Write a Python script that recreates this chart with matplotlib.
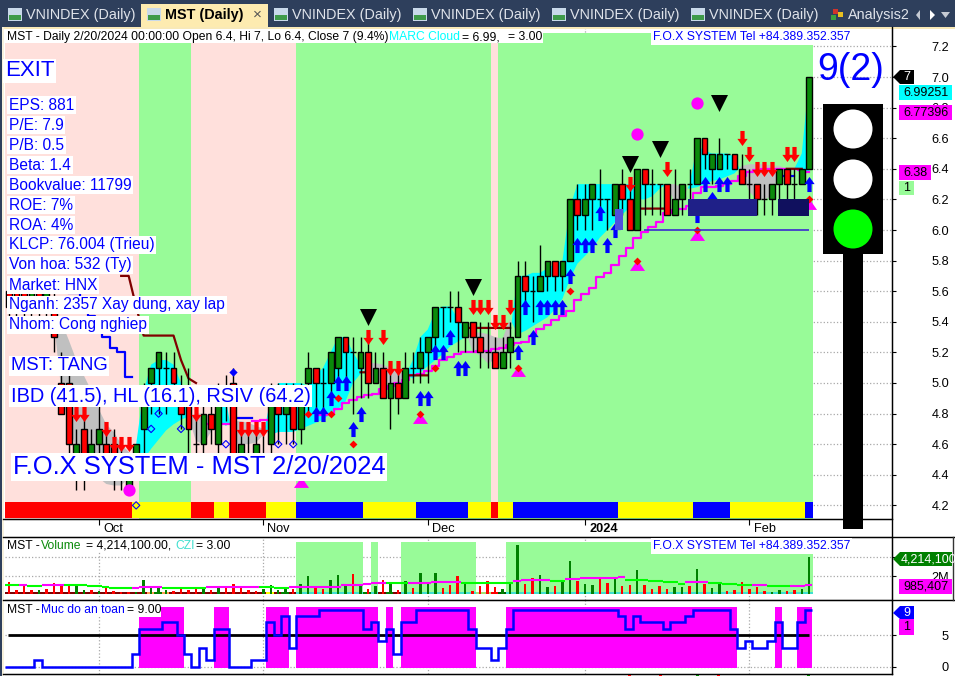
import numpy as np
import matplotlib
matplotlib.use('Agg')
import matplotlib.pyplot as plt
from matplotlib.patches import Rectangle, Circle, Polygon
from matplotlib.transforms import ScaledTranslation

plt.rcParams['font.family'] = ['Liberation Sans', 'DejaVu Sans']

W, H = 955, 676
nan = float('nan')

# daily prices, one value per bar
opens = [5.6, 5.6, 5.6, 5.5, 5.6, 5.5, 5.5, 5.0, 5.0, 4.4, 4.7, 4.5, 4.6, 4.6, 4.6, 4.5, 4.3, 4.4,
         4.7, 5.0, 5.1, 5.1, 5.1, 4.9, 4.9, 4.6, 4.6, 4.8, 4.6, 4.9, 5.0, 4.4, 4.5, 4.4, 4.5, 4.6,
         4.9, 4.8, 4.9, 4.7, 5.0, 5.1, 5.0, 5.0, 5.1, 5.3, 5.2, 5.1, 5.2, 5.0, 5.1, 4.9, 5.0, 4.9,
         5.1, 5.1, 5.2, 5.3, 5.5, 5.5, 5.5, 5.3, 5.4, 5.3, 5.2, 5.2, 5.1, 5.2, 5.3, 5.7, 5.6, 5.6,
         5.7, 5.8, 5.7, 5.8, 6.2, 6.1, 6.2, 6.2, 6.2, 6.1, 6.3, 6.2, 6.0, 6.4, 6.3, 6.3, 6.3, 6.1,
         6.2, 6.3, 6.3, 6.6, 6.4, 6.4, 6.5, 6.5, 6.4, 6.3, 6.3, 6.2, 6.2, 6.3, 6.4, 6.3, 6.3, 6.4]
closes = [5.5, 5.5, 5.5, 5.6, 5.5, 5.6, 5.3, 4.8, 4.6, 4.6, 4.4, 4.6, 4.7, 4.5, 4.5, 4.4, 4.5, 4.6,
          4.9, 5.1, 5.2, 5.1, 5.0, 4.8, 4.7, 4.6, 4.8, 4.7, 4.9, 4.9, 4.4, 4.6, 4.5, 4.6, 4.5, 4.9,
          4.8, 4.9, 4.7, 4.9, 5.1, 5.0, 5.0, 5.2, 5.3, 5.2, 5.2, 5.2, 5.0, 5.1, 4.9, 5.0, 4.9, 5.1,
          5.1, 5.2, 5.3, 5.5, 5.5, 5.5, 5.4, 5.4, 5.3, 5.2, 5.2, 5.1, 5.2, 5.3, 5.7, 5.6, 5.6, 5.7,
          5.8, 5.7, 5.8, 6.2, 6.1, 6.2, 6.3, 6.2, 6.2, 6.3, 6.2, 6.0, 6.4, 6.3, 6.3, 6.3, 6.1, 6.2,
          6.3, 6.3, 6.6, 6.5, 6.5, 6.5, 6.5, 6.4, 6.3, 6.3, 6.2, 6.2, 6.3, 6.4, 6.3, 6.3, 6.4, 7.0]
highs = [5.7, 5.7, 5.7, 5.7, 5.7, 5.7, 5.6, 5.2, 5.1, 4.7, 4.8, 4.7, 4.9, 4.7, 4.7, 4.6, 4.5, 4.6,
         5.0, 5.1, 5.2, 5.2, 5.2, 5.05, 5.1, 4.8, 4.9, 4.9, 5.0, 5.05, 5.1, 4.7, 4.7, 4.7, 4.7, 5.0,
         5.0, 5.0, 5.0, 5.0, 5.2, 5.1, 5.1, 5.2, 5.3, 5.3, 5.3, 5.3, 5.3, 5.2, 5.2, 5.1, 5.1, 5.2,
         5.2, 5.3, 5.3, 5.5, 5.5, 5.6, 5.6, 5.4, 5.4, 5.4, 5.4, 5.3, 5.3, 5.4, 5.8, 5.8, 5.7, 5.9,
         5.8, 5.8, 5.8, 6.2, 6.3, 6.3, 6.3, 6.4, 6.2, 6.3, 6.4, 6.3, 6.4, 6.4, 6.4, 6.3, 6.3, 6.4,
         6.3, 6.4, 6.6, 6.6, 6.5, 6.6, 6.5, 6.5, 6.5, 6.4, 6.3, 6.3, 6.3, 6.4, 6.4, 6.4, 6.4, 7.0]
lows = [5.4, 5.4, 5.4, 5.4, 5.4, 5.4, 5.2, 4.8, 4.5, 4.3, 4.3, 4.4, 4.4, 4.4, 4.3, 4.3, 4.3, 4.4,
        4.5, 4.8, 4.8, 4.8, 4.85, 4.7, 4.5, 4.5, 4.5, 4.6, 4.5, 4.75, 4.4, 4.4, 4.4, 4.4, 4.4, 4.5,
        4.6, 4.6, 4.6, 4.6, 4.8, 4.8, 4.8, 4.9, 5.0, 5.0, 4.8, 4.9, 4.9, 5.0, 4.9, 4.7, 4.8, 4.9,
        5.0, 5.0, 5.0, 5.2, 5.3, 5.4, 5.2, 5.2, 5.2, 5.1, 5.1, 5.1, 5.1, 5.1, 5.3, 5.5, 5.4, 5.6,
        5.6, 5.6, 5.6, 5.8, 6.0, 6.0, 6.0, 6.1, 6.0, 6.1, 6.1, 6.0, 6.0, 6.1, 6.1, 6.1, 6.1, 6.1,
        6.1, 6.1, 6.3, 6.4, 6.3, 6.4, 6.4, 6.4, 6.3, 6.2, 6.1, 6.1, 6.1, 6.2, 6.2, 6.2, 6.3, 6.4]

# MARC cloud, fast and slow edge
cloud_fast = [nan] * 6 + [5.4, 4.95, 4.72, 4.57, 4.47, 4.42, 4.38, 4.34, 4.33, 4.33, 4.38, 4.6,
              4.95, 5.12, 5.15, 5.15, 5.12, 5.0, 4.78, 4.62, 4.6, 4.68, 4.85, 4.9, 4.6, 4.6, 4.6,
              4.61, 4.66, 4.9, 5.0, 5.0, 5.0, 5.0, 4.98, 5.05, 5.1, 5.2, 5.3, 5.3, 5.2, 5.12, 5.02,
              5.0, 5.0, 5.0, 5.0, 5.05, 5.15, 5.3, 5.35, 5.47, 5.5, 5.5, 5.42, 5.35, 5.2, 5.18, 5.13,
              5.15, 5.2, 5.32, 5.7, 5.7, 5.72, 5.72, 5.75, 5.78, 5.8, 6.15, 6.3, 6.3, 6.3, 6.3, 6.3,
              6.3, 6.3, 6.3, 6.3, 6.3, 6.3, 6.3, 6.29, 6.18, 6.2, 6.3, 6.55, 6.52, 6.5, 6.5, 6.5,
              6.48, 6.36, 6.25, 6.2, 6.2, 6.22, 6.4, 6.4, 6.4, 6.5, 6.99]
cloud_slow = [nan] * 6 + [5.42, 5.4, 5.28, 5.15, 5.05, 4.95, 4.83, 4.73, 4.68, 4.6, 4.55, 4.5,
              4.5, 4.57, 4.63, 4.69, 4.73, 4.76, 4.78, 4.8, 4.8, 4.78, 4.75, 4.72, 4.75, 4.75, 4.74,
              4.72, 4.7, 4.66, 4.68, 4.68, 4.68, 4.7, 4.72, 4.74, 4.76, 4.8, 4.83, 4.88, 5.0, 5.06, 5.13,
              5.13, 5.12, 5.1, 5.08, 5.05, 5.03, 5.07, 5.11, 5.15, 5.19, 5.24, 5.27, 5.3, 5.33, 5.33, 5.32,
              5.3, 5.29, 5.42, 5.32, 5.34, 5.37, 5.4, 5.43, 5.48, 5.55, 5.68, 5.78, 5.83, 5.88, 5.95, 6.0,
              6.05, 6.1, 6.15, 6.2, 6.2, 6.22, 6.27, 6.3, 6.3, 6.28, 6.27, 6.28, 6.3, 6.32, 6.33, 6.35,
              6.37, 6.42, 6.43, 6.43, 6.43, 6.42, 6.42, 6.4, 6.4, 6.37, 6.38]

trend_line = [nan] * 27 + [4.73, 4.73, 4.73, nan, nan, nan, 4.75, 4.76] + [nan] * 7 + \
    [4.79, 4.8, 4.83, 4.87, 4.89, 4.91, 4.92, 4.93, 4.96, 4.98, 5.0, 5.02, 5.05, 5.06, 5.08, 5.11, 5.15,
     5.17, 5.19, 5.2, 5.2, 5.21, 5.21, 5.22, 5.23, 5.25, 5.26, 5.27, 5.31, 5.35, 5.38, 5.41, 5.44, 5.47,
     5.54, 5.58, 5.62, 5.69, 5.72, 5.77, 5.83, 5.88, 5.95, 5.99, 6.02, 6.05, 6.11, 6.13, 6.14, 6.16, 6.24,
     6.28, 6.28, 6.29, 6.3, 6.32, 6.35, 6.38, 6.39, 6.4, 6.4, 6.4, 6.4, 6.4, 6.39, 6.38]

stop_x = [15, 16, 17, 18, 19, 20, 21, 22, 23, 24, 25, nan, 47, 48, nan, 53, 54, 55, 56, nan,
          61, 62, 63, 64, 65, 66, 67, nan, 84, 85, 86, 87, 88, nan, 104, 105, 106]
stop_y = [5.7, 5.7, 5.5, 5.31, 5.31, 5.31, 5.31, 5.31, 5.15, 5.03, 5.0, nan, 5.07, 5.07, nan, 5.05, 5.05, 5.05, 5.05, nan,
          5.36, 5.36, 5.36, 5.36, 5.36, 5.36, 5.36, nan, 6.14, 6.14, 6.14, 6.14, 6.14, nan, 6.4, 6.4, 6.4]
blue_x = [8, 9, 10, 11, 12, 13, 14, 15, 16, 17, nan, 26, 27, nan, 30, 31, 32, 33, nan, 103, 104, 105]
blue_y = [5.59, 5.59, 5.5, 5.44, 5.4, 5.3, 5.23, 5.2, 5.04, 5.04, nan, 4.71, 4.71, nan, 4.77, 4.77, 4.77, 4.77, nan, 6.35, 6.35, 6.35]

up_x = [41, 42, 43, 44, 45, 46, 47, 55, 56, 57, 58, 59, 60, 61, 68, 69, 70, 71, 72, 73, 74, 75, 76, 77, 78, 79, 80, 81, 92, 93, 94, 95, 96, 107]
up_y = [4.8, 4.8, 4.9, 5.0, 5.0, 4.7, 4.8, 4.9, 4.9, 5.2, 5.2, 5.3, 5.1, 5.1, 5.2, 5.5, 5.3, 5.5, 5.5, 5.5, 5.5, 5.7, 5.9, 5.9, 5.9, 6.11, 5.9, 6.0, 6.1, 6.3, 6.2, 6.3, 6.3, 6.3]
down_x = [9, 10, 13, 14, 15, 16, 25, 31, 32, 33, 34, 48, 50, 51, 52, 62, 63, 64, 65, 66, 67, 83, 88, 98, 99, 100, 101, 102, 104, 105]
down_y = [4.8, 4.8, 4.7, 4.6, 4.6, 4.6, 4.8, 4.7, 4.7, 4.7, 4.7, 5.3, 5.3, 5.1, 5.1, 5.5, 5.5, 5.5, 5.4, 5.4, 5.5, 6.3, 6.4, 6.6, 6.5, 6.4, 6.4, 6.4, 6.5, 6.5]
black_x = [48, 62, 83, 87, 95]
black_y = [5.43, 5.63, 6.43, 6.53, 6.83]
tri_x = [39, 55, 68, 84, 92, 107]
tri_y = [4.35, 4.77, 5.08, 5.77, 5.97, 6.17]
dot_x = [16, 84, 92]
dot_y = [4.3, 6.63, 6.83]
red_x = [40, 43, 44, 46, 55, 57, 68, 75, 84, 92, 107]
red_y = [4.8, 4.8, 4.9, 4.6, 4.8, 5.1, 5.1, 5.6, 5.8, 6.0, 6.2]
hollow_x = [17, 19, 20, 23, 29, 36, 38]
hollow_y = [4.2, 4.7, 4.8, 4.7, 4.6, 4.6, 4.6]

green_runs = [(17.4, 24.4), (38.4, 64.4), (65.4, 107.5)]
band_edges = [-0.53, 16.4, 24.4, 27.4, 29.4, 34.4, 38.4, 47.4, 54.4, 61.4, 64.4, 65.4, 67.4, 81.4, 91.4, 96.4, 106.4, 107.5]
band_colors = ['red', 'yellow', 'red', 'yellow', 'red', 'yellow', 'blue', 'yellow', 'blue', 'yellow',
               'red', 'yellow', 'blue', 'yellow', 'blue', 'yellow', 'blue']

price_ticks = [4.2, 4.4, 4.6, 4.8, 5.0, 5.2, 5.4, 5.6, 5.8, 6.0, 6.2, 6.4, 6.6, 6.8, 7.0, 7.2]
month_ticks = [12, 34, 56, 77, 99]
month_labels = ['Oct', 'Nov', 'Dec', '2024', 'Feb']

# volume in millions
volume = [1.37, .5, .88, .5, .5, .6, 1.25, .88, .88, 1.07, .5, .5, .3, .7, .3, .19, .19, .19, 1.64, .88,
          .88, .5, .3, .7, .5, .7, .6, .5, .95, .7, 1.18, .7, .5, .38, .57, 1.07, .5, .7, .57, 1.14,
          2.0, .76, .6, 1.64, 2.2, .88, 2.3, .88, .6, .95, 1.56, 1.14, .5, 1.52, .7, 2.44, 1.37, 2.44, .7, 1.07,
          2.1, 1.25, .38, .95, 1.52, .8, .57, 1.37, 5.64, 1.18, 1.83, 2.2, .8, .95, 1.64, 3.8, 1.45, 1.18, 1.07, 1.94,
          1.25, 1.83, .95, 1.07, 2.78, 1.07, .6, .95, .6, .8, .84, .95, 2.9, 1.18, .7, 1.18, .38, .5, 1.37, .6,
          .76, .38, .27, .5, .38, .5, .6, 4.21]
vol_dir = ('rrrrgrrrrg' 'grgrrrrggg' 'ggrrrrgrgr' 'rrrrggggrg' 'grrgggrgrg'
           'rgrgrgggrr' 'rgrrrrgggr' 'rggrggrggr' 'rgrrgrrrrg' 'grgrggrrrr' 'rrggrrgg')
vol_ma = [.99, .99, 1.07, .95, .95, 1.07, 1.07, 1.07, .99, .99, .99, .88, .88, .8, .69, .69, .69, .72, .8, .8,
          .8, .69, .69, .69, .69, .69, .69, .76, .76, .76, .8, .8, .8, .8, .76, .76, .65, .65, .76, .76,
          .76, .84, .84, .84, .84, .99, .99, .99, 1.14, 1.26, 1.26, 1.22, 1.22, 1.22, 1.26, 1.26, 1.26, 1.37, 1.37, 1.37,
          1.37, 1.22, 1.22, 1.22, 1.22, 1.22, 1.22, 1.22, 1.45, 1.56, 1.56, 1.56, 1.56, 1.45, 1.45, 1.71, 1.71, 1.83, 1.83, 1.83,
          1.83, 1.83, 1.9, 1.64, 1.6, 1.6, 1.52, 1.52, 1.37, 1.37, 1.18, 1.33, 1.33, 1.33, 1.26, 1.26, 1.14, 1.14, .99, .99,
          1.03, 1.03, .88, .88, .88, .91, .91, .99]
vol_green = [(38.4, 47.4), (48.4, 49.4), (52.4, 62.4), (66.4, 107.5)]
strip_edges = [-0.53, 18.4, 19.4, 20.4, 21.4, 34.4, 35.4, 36.4, 37.4, 38.4, 47.4, 48.4, 49.4, 50.4, 51.4, 52.4, 62.4, 64.4, 65.4, 66.4, 107.5]
strip_colors = ['#800000', '#ffa050', '#008000', '#ffa050', '#800000', 'yellow', '#800000', '#008000', '#800000', '#40e0d0',
                '#008000', '#40e0d0', '#800000', '#008000', '#800000', '#40e0d0', '#a8e070', 'red', '#006000', '#40e0d0']

# Muc do an toan
safety = [0, 0, 0, 0, 1] + [0] * 12 + [2, 6, 6, 6, 7, 7, 5, 2, 0, 3, 1, 6, 6, 0, 0, 0, 1, 1, 7, 5, 8, 3, 8, 8, 8] + \
    [9] * 6 + [6, 7, 4, 6, 2, 7, 7] + [9] * 7 + [6, 3, 3, 1, 3, 6] + [9] * 14 + \
    [8, 6, 8, 7, 7, 7, 6, 7, 7, 8, 9, 9, 9, 9, 9, 6, 3, 4, 3, 3, 4, 7, 3, 3, 7, 9]

tabs = ['VNINDEX (Daily)', 'MST (Daily)', 'VNINDEX (Daily)', 'VNINDEX (Daily)', 'VNINDEX (Daily)', 'VNINDEX (Daily)', 'Analysis2']
tab_x = [26, 165, 292, 431, 570, 709, 848]
info_lines = ['EPS: 881', 'P/E: 7.9', 'P/B: 0.5', 'Beta: 1.4', 'Bookvalue: 11799', 'ROE: 7%', 'ROA: 4%',
              'KLCP: 76.004 (Trieu)', 'Von hoa: 532 (Ty)', 'Market: HNX', 'Nganh: 2357 Xay dung, xay lap', 'Nhom: Cong nghiep']

BAR = np.arange(len(closes))
GREEN = '#0a8a0a'
PALE = '#98fb98'
PINK = '#ffe0dc'


def box(x0, y0, x1, y1):
    return [x0 / W, 1 - y1 / H, (x1 - x0) / W, (y1 - y0) / H]


def span(ax, a, b, lo, hi, color, z=1):
    ax.fill_between([a, b], lo, hi, color=color, lw=0, zorder=z)


fig = plt.figure(figsize=(9.55, 6.76), dpi=100, facecolor='white')

# ---- price panel
ax = fig.add_axes(box(5, 27, 891.5, 519))
ax.set_xlim(-0.535, 118)
ax.set_ylim(4.111, 7.327)
span(ax, -0.53, 107.5, 4.11, 7.288, PINK)
for a, b in green_runs:
    span(ax, a, b, 4.11, 7.288, PALE)
for i in range(len(band_colors)):
    span(ax, band_edges[i], band_edges[i + 1], 4.118, 4.222, band_colors[i], 2)

fast = np.array(cloud_fast)
slow = np.array(cloud_slow)
ax.fill_between(BAR, fast, slow, where=fast >= slow, interpolate=True, color='cyan', lw=0, zorder=3)
ax.fill_between(BAR, fast, slow, where=fast <= slow, interpolate=True, color='#c0c0c0', lw=0, zorder=3)

ax.plot(BAR, trend_line, color='#ff00ff', lw=1.6, drawstyle='steps-mid', zorder=4)
ax.plot(blue_x, blue_y, color='blue', lw=1.6, drawstyle='steps-mid', zorder=4)
ax.plot(stop_x, stop_y, color='#800000', lw=1.6, zorder=4)

ax.vlines(BAR, lows, highs, color='black', lw=1, zorder=5)
body_colors = [GREEN if c > o else 'red' for o, c in zip(opens, closes)]
ax.bar(BAR, np.array(closes) - np.array(opens), bottom=opens, width=0.78, color=body_colors,
       edgecolor='black', lw=1, zorder=6)

arrow = [(0, 1), (0.68, 0.05), (0.28, 0.05), (0.28, -1), (-0.28, -1), (-0.28, 0.05), (-0.68, 0.05)]
arrow_down = [(x, -y) for x, y in arrow]
tri_up = [(-1, -0.72), (1, -0.72), (0, 0.72)]
ax.scatter(tri_x, tri_y, marker=tri_up, s=118, color='#ff00ff', lw=0, zorder=7)
ax.scatter(dot_x, dot_y, marker='o', s=78, color='#ff00ff', lw=0, zorder=7)
ax.scatter(up_x, up_y, marker=arrow, s=118, color='blue', lw=0, zorder=7)
ax.scatter(down_x, down_y, marker=arrow_down, s=118, color='red', lw=0, zorder=7)
ax.scatter(black_x, black_y, marker='v', s=150, color='black', lw=0, zorder=7)
ax.scatter(red_x, red_y, marker='D', s=16, color='red', lw=0, zorder=8)
ax.scatter(hollow_x, hollow_y, marker='D', s=14, facecolor='none', edgecolor='blue', lw=0.8, zorder=8)
ax.scatter([30], [5.07], marker='D', s=18, color='blue', lw=0, zorder=8)

ax.hlines(6.0, 84.9, 107, color='#3b2bd0', lw=1.2, zorder=8)
span(ax, 81.0, 82.1, 6.0, 6.14, '#5050dd', 8)
span(ax, 90.8, 100, 6.09, 6.2, '#1f2088', 8)
span(ax, 102.8, 107, 6.09, 6.2, '#10105e', 8)

ax.set_yticks(price_ticks)
ax.set_yticklabels(['%.1f' % p for p in price_ticks])
ax.yaxis.tick_right()
ax.tick_params(axis='y', length=3, pad=26, labelsize=9.2, colors='black')
ax.set_xticks(month_ticks)
ax.set_xticklabels(month_labels, ha='left')
ax.tick_params(axis='x', length=4, pad=-1, labelsize=9.2)
shift = ScaledTranslation(3 / 72, 0, fig.dpi_scale_trans)
for lab in ax.get_xticklabels():
    lab.set_transform(lab.get_transform() + shift)
ax.get_xticklabels()[3].set_fontweight('bold')
ax.grid(True, ls=':', lw=0.9, color='#a8a8a8')
ax.set_axisbelow(True)
ax.spines['top'].set_visible(False)
ax.spines['left'].set_visible(False)

# ---- volume panel
vx = fig.add_axes(box(5, 537, 891.5, 600))
vx.set_xlim(-0.535, 118)
vx.set_ylim(-0.686, 6.514)
for a, b in vol_green:
    span(vx, a, b, 0, 5.97, PALE)
for i in range(len(strip_colors)):
    span(vx, strip_edges[i], strip_edges[i + 1], 0, 0.27, strip_colors[i], 2)
vx.bar(BAR, volume, width=0.33, color=['red' if d == 'r' else '#008000' for d in vol_dir], lw=0, zorder=3)
ma_colors = ['#00ff00']
for i in range(1, len(vol_ma)):
    if vol_ma[i] == vol_ma[i - 1]:
        ma_colors.append(ma_colors[-1])
    else:
        ma_colors.append('#ff00ff' if vol_ma[i] > vol_ma[i - 1] else '#00ff00')
vx.hlines(vol_ma, BAR - 0.6, BAR + 0.4, lw=1.5, zorder=4, colors=ma_colors)
vx.set_yticks([2, 4.2141])
vx.set_yticklabels(['2M', ''])
vx.yaxis.tick_right()
vx.tick_params(axis='y', length=3, pad=26, labelsize=9.2)
vx.set_xticks(month_ticks)
vx.tick_params(axis='x', length=0, labelbottom=False)
vx.grid(True, ls=':', lw=0.9, color='#a8a8a8')
vx.set_axisbelow(True)
vx.spines['left'].set_visible(False)

# ---- safety panel
sx = fig.add_axes(box(5, 600, 891.5, 674))
sx.set_xlim(-0.535, 118)
sx.set_ylim(-1.15, 10.53)
for i, v in enumerate(safety):
    if v >= 5:
        span(sx, i - 0.6, i + 0.4, -0.15, 9.5, '#ff00ff')
sx.hlines(5, -0.1, 107, color='black', lw=2, zorder=3)
sx.stairs(safety, np.append(BAR - 0.6, BAR[-1] + 0.4), color='blue', lw=1.8, zorder=4, baseline=None)
sx.set_yticks([0, 5])
sx.yaxis.tick_right()
sx.tick_params(axis='y', length=3, pad=33, labelsize=9.2)
sx.set_xticks(month_ticks)
sx.tick_params(axis='x', length=0, labelbottom=False)
sx.grid(True, ls=':', lw=0.9, color='#a8a8a8')
sx.set_axisbelow(True)
sx.spines['left'].set_visible(False)

# ---- window furniture and labels, in pixels
ov = fig.add_axes([0, 0, 1, 1], zorder=10)
ov.set_xlim(0, W)
ov.set_ylim(H, 0)
ov.axis('off')
ov.patch.set_alpha(0)


def rect(x0, y0, x1, y1, color, z=1):
    ov.add_patch(Rectangle((x0, y0), x1 - x0, y1 - y0, fc=color, ec='none', zorder=z))


def txt(x, y, s, color='black', size=8.7, bg=None, **kw):
    bbox = dict(fc=bg, ec='none', pad=1.2) if bg else None
    return ov.text(x, y, s, color=color, fontsize=size, va='center', ha=kw.pop('ha', 'left'), bbox=bbox, zorder=5, **kw)


rect(0, 0, W, 27, '#2e3f5c')
rect(0, 27, W, 28.5, '#f8e9b8')
rect(141, 4, 268, 27, '#fdebb0')
rect(0, 27, 1.5, H, '#2e3f5c')
rect(1.5, 27, 4, H, '#f7f1dd')
for i, name in enumerate(tabs):
    active = name.startswith('MST')
    txt(tab_x[i], 15.5, name, 'black' if active else '#dfe3ea', 10.4, fontweight='bold' if active else 'normal')
    if i < len(tabs) - 1:
        ix = tab_x[i] - 18
        rect(ix, 8, ix + 14, 21, '#c9d9ea', 2)
        rect(ix + 1, 15, ix + 13, 20, '#3f9b4a', 3)
rect(833, 9, 838, 14, '#d0342c', 2)
rect(838, 12, 843, 17, '#e8c020', 2)
rect(831, 15, 836, 20, '#3aa040', 2)
txt(257, 15, '\u00d7', '#555555', 11, ha='center')
ov.add_patch(Polygon([(916, 15), (920, 10), (920, 20)], fc='#c5cad3', ec='none', zorder=3))
ov.add_patch(Polygon([(935, 15), (930, 10), (930, 20)], fc='white', ec='none', zorder=3))
ov.add_patch(Polygon([(941, 12), (950, 12), (945.5, 18)], fc='#c5cad3', ec='none', zorder=3))

# header line
rect(5, 28.5, 543, 43, 'white', 2)
rect(653, 29, 848, 44, 'white', 2)
txt(7, 37, 'MST - Daily 2/20/2024 00:00:00 Open 6.4, Hi 7, Lo 6.4, Close 7 (9.4%)')
txt(389, 37, 'MARC Cloud', '#00ffff')
txt(462, 37, '= 6.99,')
txt(508, 37, '= 3.00')
txt(653, 37, 'F.O.X SYSTEM Tel +84.389.352.357', 'blue', bg='white')
rect(5, 539, 232, 552, 'white', 2)
txt(7, 546, 'MST - ')
txt(41, 546, 'Volume', GREEN)
txt(86, 546, '= 4,214,100.00,')
txt(175, 546, 'CZI', '#40e0d0')
txt(196, 546, '= 3.00')
txt(653, 546, 'F.O.X SYSTEM Tel +84.389.352.357', 'blue', bg='white')
rect(5, 603, 161, 617, 'white', 2)
txt(7, 610, 'MST - ')
txt(41, 610, 'Muc do an toan', 'blue')
txt(127, 610, '= 9.00')

# info boxes
txt(5, 71, 'EXIT', 'blue', 16, bg='white')
for i, line in enumerate(info_lines):
    txt(9, 105 + 20 * i, line, 'blue', 11.2, bg='white')
txt(11, 366, 'MST: TANG', 'blue', 13.3, bg='white')
txt(11, 396, 'IBD (41.5), HL (16.1), RSIV (64.2)', 'blue', 14.4, bg='white')
txt(13, 467, 'F.O.X SYSTEM - MST 2/20/2024', 'blue', 18.4, bg='white')

# signal light
txt(851, 70, '9(2)', 'blue', 27, ha='center')
rect(823, 104, 883, 254, 'black', 3)
rect(843, 254, 863, 529, 'black', 3)
ov.add_patch(Circle((853, 129), 19.5, fc='white', ec='none', zorder=4))
ov.add_patch(Circle((853, 179), 19.5, fc='white', ec='none', zorder=4))
ov.add_patch(Circle((853, 229), 19.5, fc='#00ff00', ec='none', zorder=4))

# value tags on the right axis
ov.add_patch(Polygon([(893, 77), (900, 70), (914, 70), (914, 84), (900, 84)], fc='black', ec='none', zorder=3))
txt(903, 77, '7', 'white', 9)
rect(899, 85, 952, 100, 'cyan', 3)
txt(903, 92.5, '6.99251', 'black', 9)
rect(899, 105, 952, 120, '#ff00ff', 3)
txt(903, 112.5, '6.77396', 'black', 9)
rect(899, 165, 931, 180, '#ff00ff', 3)
txt(903, 172.5, '6.38', 'black', 9)
rect(899, 181, 914, 195, PALE, 3)
txt(903, 188, '1', 'black', 9)
ov.add_patch(Polygon([(893, 559), (900, 552), (952, 552), (952, 566), (900, 566)], fc='#008000', ec='none', zorder=3))
txt(901, 559, '4,214,100', 'white', 9)
rect(899, 579, 952, 594, '#ff00ff', 3)
txt(903, 586.5, '985,407', 'black', 9)
ov.add_patch(Polygon([(893, 613), (900, 606), (914, 606), (914, 619), (900, 619)], fc='blue', ec='none', zorder=3))
txt(903, 612.5, '9', 'white', 9)
rect(899, 619, 914, 635, '#ff00ff', 3)
txt(903, 627, '1', 'black', 9)

# frame lines
ov.plot([3, 891.5], [519, 519], color='black', lw=1, zorder=2)
ov.plot([3, W], [537, 537], color='black', lw=1, zorder=2)
ov.plot([3, W], [600, 600], color='black', lw=1, zorder=2)
ov.plot([3, 891.5], [674, 674], color='black', lw=1, zorder=2)
ov.plot([891.5, 891.5], [27, 674], color='black', lw=1, zorder=2)
ov.plot([953, 953], [537, 600], color='#333333', lw=1, zorder=2)

# tops of the next pane just show under the last line
for mx, mc in zip([629, 660, 697, 718, 808], ['red', 'red', '#008000', 'red', '#008000']):
    rect(mx - 1, 674.5, mx + 2, 676, mc, 3)

fig.savefig('out.png', dpi=100)
